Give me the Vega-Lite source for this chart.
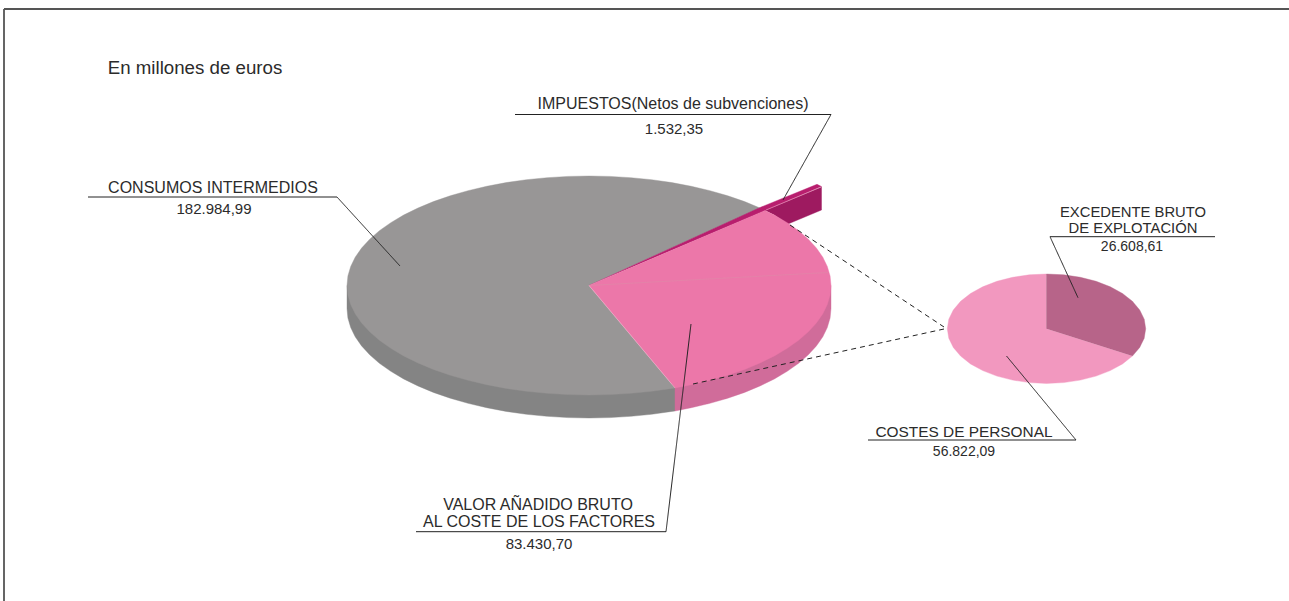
{"$schema":"https://vega.github.io/schema/vega-lite/v6.json","width":1289,"height":601,"padding":0,"autosize":"none","background":"white","view":{"stroke":null},
"resolve":{"scale":{"stroke":"independent"}},
"datasets":{
"formas":[
{"f":"gris_lado","i":0,"x":347,"y":285.5},{"f":"gris_lado","i":1,"x":347,"y":308.5},{"f":"gris_lado","i":2,"x":347.9,"y":318},{"f":"gris_lado","i":3,"x":350.7,"y":327.5},{"f":"gris_lado","i":4,"x":355.2,"y":336.8},{"f":"gris_lado","i":5,"x":361.6,"y":345.9},{"f":"gris_lado","i":6,"x":369.7,"y":354.8},{"f":"gris_lado","i":7,"x":379.4,"y":363.3},{"f":"gris_lado","i":8,"x":390.8,"y":371.3},{"f":"gris_lado","i":9,"x":403.6,"y":378.9},{"f":"gris_lado","i":10,"x":417.9,"y":385.9},{"f":"gris_lado","i":11,"x":433.4,"y":392.4},{"f":"gris_lado","i":12,"x":450.2,"y":398.2},{"f":"gris_lado","i":13,"x":468,"y":403.3},{"f":"gris_lado","i":14,"x":486.7,"y":407.7},{"f":"gris_lado","i":15,"x":506.2,"y":411.4},{"f":"gris_lado","i":16,"x":526.4,"y":414.3},{"f":"gris_lado","i":17,"x":547,"y":416.3},{"f":"gris_lado","i":18,"x":567.9,"y":417.6},{"f":"gris_lado","i":19,"x":589,"y":418},{"f":"gris_lado","i":20,"x":610.1,"y":417.6},{"f":"gris_lado","i":21,"x":631,"y":416.3},{"f":"gris_lado","i":22,"x":651.6,"y":414.3},{"f":"gris_lado","i":23,"x":671.8,"y":411.4},{"f":"gris_lado","i":24,"x":675,"y":411},{"f":"gris_lado","i":25,"x":675,"y":385},
{"f":"rosa_lado","i":0,"x":675,"y":385},{"f":"rosa_lado","i":1,"x":675,"y":411},{"f":"rosa_lado","i":2,"x":691.3,"y":407.7},{"f":"rosa_lado","i":3,"x":710,"y":403.3},{"f":"rosa_lado","i":4,"x":727.8,"y":398.2},{"f":"rosa_lado","i":5,"x":744.6,"y":392.4},{"f":"rosa_lado","i":6,"x":760.1,"y":385.9},{"f":"rosa_lado","i":7,"x":774.4,"y":378.9},{"f":"rosa_lado","i":8,"x":787.2,"y":371.3},{"f":"rosa_lado","i":9,"x":798.6,"y":363.3},{"f":"rosa_lado","i":10,"x":808.3,"y":354.8},{"f":"rosa_lado","i":11,"x":816.4,"y":345.9},{"f":"rosa_lado","i":12,"x":822.8,"y":336.8},{"f":"rosa_lado","i":13,"x":827.3,"y":327.5},{"f":"rosa_lado","i":14,"x":830.1,"y":318},{"f":"rosa_lado","i":15,"x":831,"y":308.5},{"f":"rosa_lado","i":16,"x":831,"y":285.5},
{"f":"magenta_lado","i":0,"x":765,"y":210.5},{"f":"magenta_lado","i":1,"x":821.5,"y":187},{"f":"magenta_lado","i":2,"x":821.5,"y":210},{"f":"magenta_lado","i":3,"x":788,"y":224},{"f":"magenta_lado","i":4,"x":774.4,"y":215.1},
{"f":"gris","i":0,"x":589,"y":285.5},{"f":"gris","i":1,"x":675,"y":388},{"f":"gris","i":2,"x":671.8,"y":388.4},{"f":"gris","i":3,"x":651.6,"y":391.3},{"f":"gris","i":4,"x":631,"y":393.3},{"f":"gris","i":5,"x":610.1,"y":394.6},{"f":"gris","i":6,"x":589,"y":395},{"f":"gris","i":7,"x":567.9,"y":394.6},{"f":"gris","i":8,"x":547,"y":393.3},{"f":"gris","i":9,"x":526.4,"y":391.3},{"f":"gris","i":10,"x":506.2,"y":388.4},{"f":"gris","i":11,"x":486.7,"y":384.7},{"f":"gris","i":12,"x":468,"y":380.3},{"f":"gris","i":13,"x":450.2,"y":375.2},{"f":"gris","i":14,"x":433.4,"y":369.4},{"f":"gris","i":15,"x":417.9,"y":362.9},{"f":"gris","i":16,"x":403.6,"y":355.9},{"f":"gris","i":17,"x":390.8,"y":348.3},{"f":"gris","i":18,"x":379.4,"y":340.3},{"f":"gris","i":19,"x":369.7,"y":331.8},{"f":"gris","i":20,"x":361.6,"y":322.9},{"f":"gris","i":21,"x":355.2,"y":313.8},{"f":"gris","i":22,"x":350.7,"y":304.5},{"f":"gris","i":23,"x":347.9,"y":295},{"f":"gris","i":24,"x":347,"y":285.5},{"f":"gris","i":25,"x":347.9,"y":276},{"f":"gris","i":26,"x":350.7,"y":266.5},{"f":"gris","i":27,"x":355.2,"y":257.2},{"f":"gris","i":28,"x":361.6,"y":248.1},{"f":"gris","i":29,"x":369.7,"y":239.2},{"f":"gris","i":30,"x":379.4,"y":230.7},{"f":"gris","i":31,"x":390.8,"y":222.7},{"f":"gris","i":32,"x":403.6,"y":215.1},{"f":"gris","i":33,"x":417.9,"y":208.1},{"f":"gris","i":34,"x":433.4,"y":201.6},{"f":"gris","i":35,"x":450.2,"y":195.8},{"f":"gris","i":36,"x":468,"y":190.7},{"f":"gris","i":37,"x":486.7,"y":186.3},{"f":"gris","i":38,"x":506.2,"y":182.6},{"f":"gris","i":39,"x":526.4,"y":179.7},{"f":"gris","i":40,"x":547,"y":177.7},{"f":"gris","i":41,"x":567.9,"y":176.4},{"f":"gris","i":42,"x":589,"y":176},{"f":"gris","i":43,"x":610.1,"y":176.4},{"f":"gris","i":44,"x":631,"y":177.7},{"f":"gris","i":45,"x":651.6,"y":179.7},{"f":"gris","i":46,"x":671.8,"y":182.6},{"f":"gris","i":47,"x":691.3,"y":186.3},{"f":"gris","i":48,"x":710,"y":190.7},{"f":"gris","i":49,"x":727.8,"y":195.8},{"f":"gris","i":50,"x":744.6,"y":201.6},{"f":"gris","i":51,"x":760,"y":208},
{"f":"magenta","i":0,"x":589,"y":285.5},{"f":"magenta","i":1,"x":760,"y":207.5},{"f":"magenta","i":2,"x":817,"y":184.3},{"f":"magenta","i":3,"x":821.5,"y":186.5},{"f":"magenta","i":4,"x":765.5,"y":210.5},
{"f":"rosa","i":0,"x":589,"y":285.5},{"f":"rosa","i":1,"x":765,"y":210.5},{"f":"rosa","i":2,"x":774.4,"y":215.1},{"f":"rosa","i":3,"x":787.2,"y":222.7},{"f":"rosa","i":4,"x":798.6,"y":230.7},{"f":"rosa","i":5,"x":808.3,"y":239.2},{"f":"rosa","i":6,"x":816.4,"y":248.1},{"f":"rosa","i":7,"x":822.8,"y":257.2},{"f":"rosa","i":8,"x":827.3,"y":266.5},{"f":"rosa","i":9,"x":830.1,"y":276},{"f":"rosa","i":10,"x":831,"y":285.5},{"f":"rosa","i":11,"x":830.1,"y":295},{"f":"rosa","i":12,"x":827.3,"y":304.5},{"f":"rosa","i":13,"x":822.8,"y":313.8},{"f":"rosa","i":14,"x":816.4,"y":322.9},{"f":"rosa","i":15,"x":808.3,"y":331.8},{"f":"rosa","i":16,"x":798.6,"y":340.3},{"f":"rosa","i":17,"x":787.2,"y":348.3},{"f":"rosa","i":18,"x":774.4,"y":355.9},{"f":"rosa","i":19,"x":760.1,"y":362.9},{"f":"rosa","i":20,"x":744.6,"y":369.4},{"f":"rosa","i":21,"x":727.8,"y":375.2},{"f":"rosa","i":22,"x":710,"y":380.3},{"f":"rosa","i":23,"x":691.3,"y":384.7},{"f":"rosa","i":24,"x":675,"y":388},
{"f":"claro","i":0,"x":1046.5,"y":328.7},{"f":"claro","i":1,"x":1132.4,"y":356.1},{"f":"claro","i":2,"x":1122.5,"y":363.9},{"f":"claro","i":3,"x":1110.3,"y":370.6},{"f":"claro","i":4,"x":1096.1,"y":376.1},{"f":"claro","i":5,"x":1080.4,"y":380.1},{"f":"claro","i":6,"x":1063.7,"y":382.6},{"f":"claro","i":7,"x":1046.5,"y":383.4},{"f":"claro","i":8,"x":1029.3,"y":382.6},{"f":"claro","i":9,"x":1012.6,"y":380.1},{"f":"claro","i":10,"x":996.9,"y":376.1},{"f":"claro","i":11,"x":982.7,"y":370.6},{"f":"claro","i":12,"x":970.5,"y":363.9},{"f":"claro","i":13,"x":960.6,"y":356.1},{"f":"claro","i":14,"x":953.3,"y":347.4},{"f":"claro","i":15,"x":948.8,"y":338.2},{"f":"claro","i":16,"x":947.3,"y":328.7},{"f":"claro","i":17,"x":948.8,"y":319.2},{"f":"claro","i":18,"x":953.3,"y":310},{"f":"claro","i":19,"x":960.6,"y":301.3},{"f":"claro","i":20,"x":970.5,"y":293.5},{"f":"claro","i":21,"x":982.7,"y":286.8},{"f":"claro","i":22,"x":996.9,"y":281.3},{"f":"claro","i":23,"x":1012.6,"y":277.3},{"f":"claro","i":24,"x":1029.3,"y":274.8},{"f":"claro","i":25,"x":1046.5,"y":274},
{"f":"oscuro","i":0,"x":1046.5,"y":328.7},{"f":"oscuro","i":1,"x":1046.5,"y":274},{"f":"oscuro","i":2,"x":1063.7,"y":274.8},{"f":"oscuro","i":3,"x":1080.4,"y":277.3},{"f":"oscuro","i":4,"x":1096.1,"y":281.3},{"f":"oscuro","i":5,"x":1110.3,"y":286.8},{"f":"oscuro","i":6,"x":1122.5,"y":293.5},{"f":"oscuro","i":7,"x":1132.4,"y":301.3},{"f":"oscuro","i":8,"x":1139.7,"y":310},{"f":"oscuro","i":9,"x":1144.2,"y":319.2},{"f":"oscuro","i":10,"x":1145.7,"y":328.7},{"f":"oscuro","i":11,"x":1144.2,"y":338.2},{"f":"oscuro","i":12,"x":1139.7,"y":347.4},{"f":"oscuro","i":13,"x":1132.4,"y":356.1}
],
"lineas":[
{"l":"marco","t":"marco","i":0,"x":4,"y":601},{"l":"marco","t":"marco","i":1,"x":4,"y":9},{"l":"marco","t":"marco","i":2,"x":1289,"y":9},
{"l":"arista1","t":"arista","i":0,"x":589,"y":285.5},{"l":"arista1","t":"arista","i":1,"x":828,"y":272.5},
{"l":"arista2","t":"arista_clara","i":0,"x":589,"y":285.5},{"l":"arista2","t":"arista_clara","i":1,"x":675,"y":388},
{"l":"arista3","t":"arista_clara","i":0,"x":766,"y":210},{"l":"arista3","t":"arista_clara","i":1,"x":821,"y":187},
{"l":"impuestos","t":"guia","i":0,"x":515,"y":114.5},{"l":"impuestos","t":"guia","i":1,"x":831,"y":114.5},{"l":"impuestos","t":"guia","i":2,"x":783,"y":200},
{"l":"consumos","t":"guia","i":0,"x":88,"y":197},{"l":"consumos","t":"guia","i":1,"x":337,"y":197},{"l":"consumos","t":"guia","i":2,"x":400,"y":266},
{"l":"valor","t":"guia","i":0,"x":416,"y":531.7},{"l":"valor","t":"guia","i":1,"x":666,"y":531.7},{"l":"valor","t":"guia","i":2,"x":691,"y":324},
{"l":"excedente","t":"guia","i":0,"x":1215,"y":236.7},{"l":"excedente","t":"guia","i":1,"x":1050,"y":236.7},{"l":"excedente","t":"guia","i":2,"x":1078,"y":297.7},
{"l":"costes","t":"guia","i":0,"x":868,"y":440},{"l":"costes","t":"guia","i":1,"x":1076,"y":440},{"l":"costes","t":"guia","i":2,"x":1006.5,"y":356},
{"l":"zoom1","t":"trazos","i":0,"x":790,"y":225},{"l":"zoom1","t":"trazos","i":1,"x":944,"y":327},
{"l":"zoom2","t":"trazos","i":0,"x":944,"y":329},{"l":"zoom2","t":"trazos","i":1,"x":693,"y":384}
],
"textos":[
{"x":195,"y":74,"s":"En millones de euros","g":"nota"},
{"x":673,"y":109,"s":"IMPUESTOS(Netos de subvenciones)","g":"r16"},
{"x":213,"y":193,"s":"CONSUMOS INTERMEDIOS","g":"r16"},
{"x":538,"y":510,"s":"VALOR AÑADIDO BRUTO","g":"r16"},
{"x":539,"y":527,"s":"AL COSTE DE LOS FACTORES","g":"r16"},
{"x":1133,"y":217,"s":"EXCEDENTE BRUTO","g":"r15"},
{"x":1133,"y":233,"s":"DE EXPLOTACIÓN","g":"r15"},
{"x":964,"y":437,"s":"COSTES DE PERSONAL","g":"r155"},
{"x":674,"y":134,"s":"1.532,35","g":"n15"},
{"x":214,"y":214,"s":"182.984,99","g":"n15"},
{"x":539,"y":549,"s":"83.430,70","g":"n15"},
{"x":1132,"y":251,"s":"26.608,61","g":"n14"},
{"x":964,"y":456,"s":"56.822,09","g":"n14"}
]},
"encoding":{
"x":{"field":"x","type":"quantitative","scale":{"domain":[0,1289],"nice":false,"zero":false},"axis":null},
"y":{"field":"y","type":"quantitative","scale":{"domain":[601,0],"nice":false,"zero":false},"axis":null}
},
"layer":[
{"data":{"name":"formas"},"mark":{"type":"line","strokeWidth":0.4,"clip":false},
"encoding":{"order":{"field":"i","type":"quantitative"},
"fill":{"field":"f","type":"nominal","legend":null,"sort":null,"scale":{"domain":["gris_lado","rosa_lado","magenta_lado","gris","magenta","rosa","claro","oscuro"],"range":["#848484","#D06C9A","#9E1A60","#989696","#B81E6E","#EC77A9","#F298BF","#B76489"]}},
"stroke":{"field":"f","type":"nominal","legend":null,"sort":null,"scale":{"domain":["gris_lado","rosa_lado","magenta_lado","gris","magenta","rosa","claro","oscuro"],"range":["#848484","#D06C9A","#9E1A60","#989696","#B81E6E","#EC77A9","#F298BF","#B76489"]}}}},
{"data":{"name":"lineas"},"mark":{"type":"line","clip":false},
"encoding":{"order":{"field":"i","type":"quantitative"},"detail":{"field":"l"},
"stroke":{"field":"t","type":"nominal","legend":null,"scale":{"domain":["marco","arista","arista_clara","guia","trazos"],"range":["#555555","#DE8CA8","#F3B5CF","#222222","#222222"]}},
"strokeWidth":{"field":"t","type":"nominal","legend":null,"scale":{"type":"ordinal","domain":["marco","arista","arista_clara","guia","trazos"],"range":[1.8,0.6,0.6,1,1]}},
"strokeDash":{"field":"t","type":"nominal","legend":null,"scale":{"domain":["marco","arista","arista_clara","guia","trazos"],"range":[[1,0],[1,0],[1,0],[1,0],[5,4]]}}}},
{"data":{"name":"textos"},"mark":{"type":"text","font":"Liberation Sans","align":"center","baseline":"alphabetic","fill":"#2b2b2b"},
"encoding":{"text":{"field":"s"},"size":{"field":"g","type":"nominal","legend":null,"scale":{"type":"ordinal","domain":["nota","r16","r15","r155","n15","n14"],"range":[18.7,16,14.8,15.4,15,14]}}}}
]}
